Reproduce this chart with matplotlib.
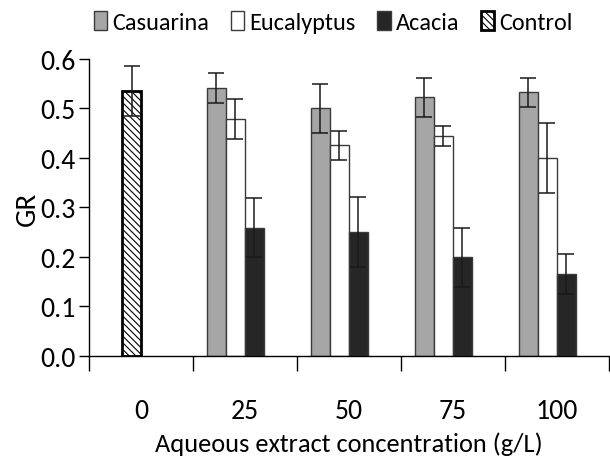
import numpy as np
import matplotlib.pyplot as plt

plt.rcParams['font.family'] = ['Carlito', 'Lato', 'DejaVu Sans']
plt.rcParams['hatch.linewidth'] = 0.8

concentrations = ['0', '25', '50', '75', '100']
series = ['Casuarina', 'Eucalyptus', 'Acacia']
casuarina = [0.541, 0.500, 0.522, 0.532]
casuarina_err = [0.03, 0.05, 0.04, 0.03]
eucalyptus = [0.479, 0.425, 0.444, 0.400]
eucalyptus_err = [0.04, 0.03, 0.02, 0.07]
acacia = [0.259, 0.250, 0.199, 0.165]
acacia_err = [0.06, 0.07, 0.06, 0.04]
control = 0.535
control_err = 0.05

colors = ['#a6a6a6', '#ffffff', '#262626']
values = [casuarina, eucalyptus, acacia]
errors = [casuarina_err, eucalyptus_err, acacia_err]

fig = plt.figure(figsize=(6.1, 4.6), dpi=100)
ax = fig.add_axes([0.146, 0.224, 0.852, 0.646])

w = 0.183
x = np.arange(len(concentrations))
treated = x[1:]
ekw = dict(elinewidth=1.1, capthick=1.1)
for i, (name, vals, errs, c) in enumerate(zip(series, values, errors, colors)):
    ax.bar(treated + (i - 1.5) * w, vals, w, color=c, edgecolor='#3a3a3a',
           linewidth=1.0, label=name, yerr=errs, capsize=5.5,
           error_kw=ekw, ecolor='#1a1a1a')

ax.bar(x[0] - 0.5 * w, control, w, color='white', edgecolor='black',
       linewidth=2.0, hatch='\\\\\\\\\\', label='Control', yerr=control_err,
       capsize=5.5, error_kw=ekw, ecolor='#1a1a1a')

ax.set_xlim(-0.5, 4.5)
ax.set_ylim(0, 0.6)
ax.set_yticks(np.arange(0, 0.61, 0.1))
ax.set_yticklabels(['0.0', '0.1', '0.2', '0.3', '0.4', '0.5', '0.6'])
ax.set_xticks(x)
ax.set_xticklabels(concentrations)
ax.set_xticks(np.arange(-0.5, 4.6, 1), minor=True)
ax.tick_params(axis='x', which='major', length=0, pad=30, labelsize=20)
ax.tick_params(axis='x', which='minor', length=11, width=1.0, direction='out')
ax.tick_params(axis='y', length=7, width=1.0, labelsize=20, pad=3)

for side in ['top', 'right']:
    ax.spines[side].set_visible(False)
ax.spines['left'].set_linewidth(1.0)
ax.spines['bottom'].set_linewidth(1.0)

ax.set_ylabel('GR', fontsize=21, labelpad=0)
ax.set_xlabel('Aqueous extract concentration (g/L)', fontsize=19, labelpad=6)

ax.legend(loc='lower center', bbox_to_anchor=(0.47, 1.055), ncol=4,
          frameon=False, fontsize=17.5, handlelength=0.55, handleheight=0.85,
          handletextpad=0.2, columnspacing=0.9, borderaxespad=0)

fig.savefig('out.png', dpi=100)
